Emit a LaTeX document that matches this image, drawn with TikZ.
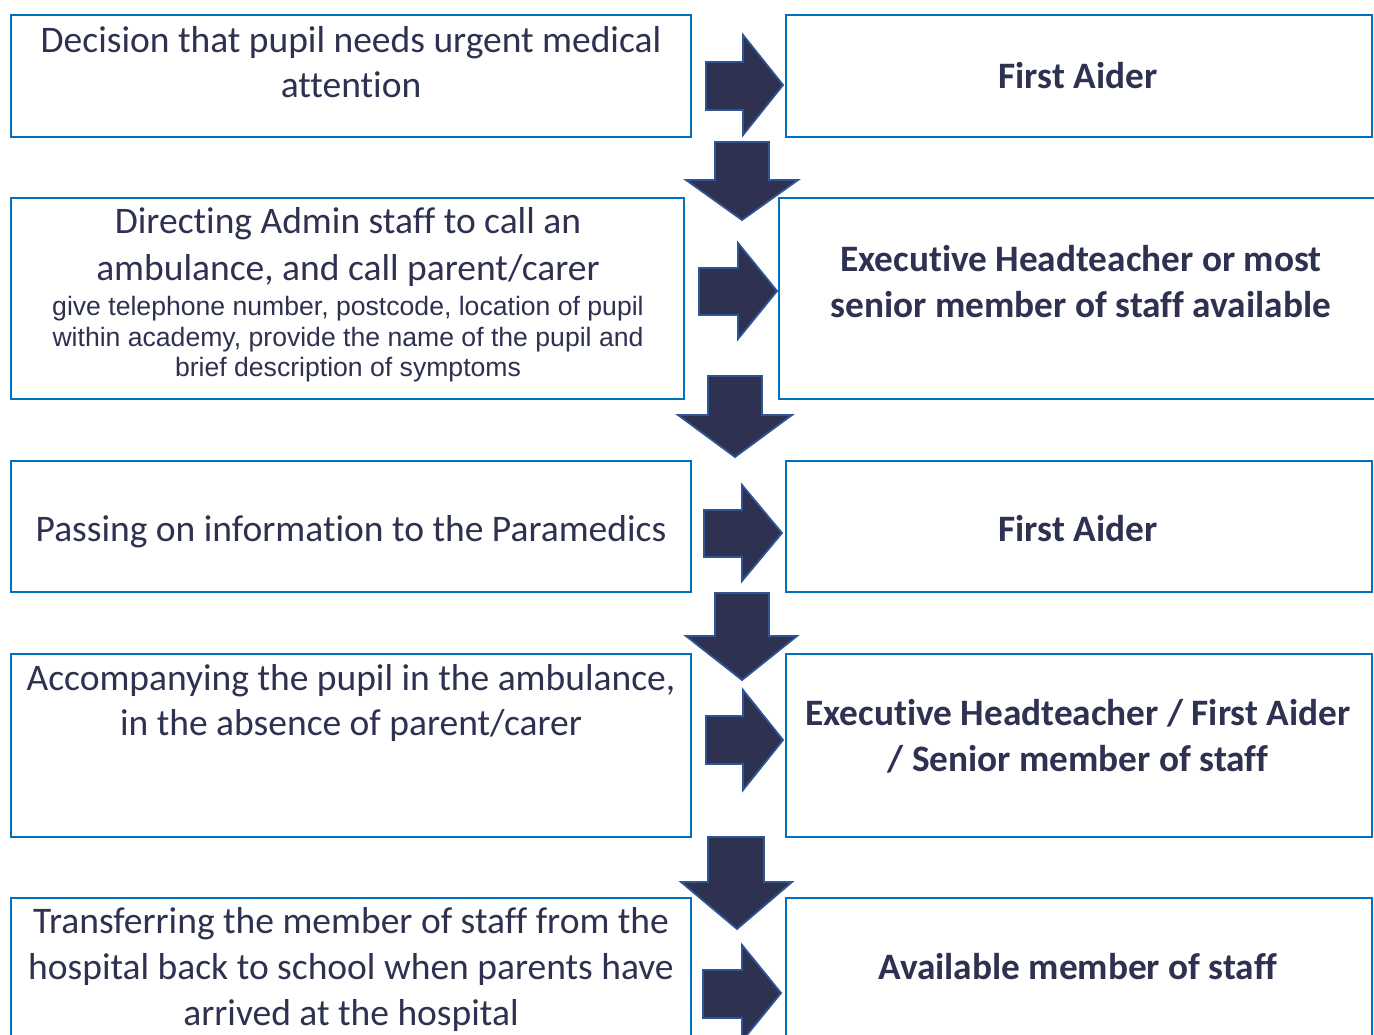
\documentclass[tikz,border=0pt]{standalone}
\usepackage{fontspec}
\setmainfont{Carlito}[Ligatures=NoCommon]
\newfontfamily\arialfont{Liberation Sans}
\definecolor{boxblue}{HTML}{0070C0}
\definecolor{navy}{HTML}{2E3150}
\definecolor{arrowedge}{HTML}{2F5597}
\begin{document}
\begin{tikzpicture}[x=1pt,y=-1pt,
  box/.style={draw=boxblue, line width=2pt, inner sep=0pt},
  txt/.style={anchor=base, inner sep=0pt, text=navy, font=\fontsize{37.5}{45}\selectfont},
  btxt/.style={txt, font=\fontsize{37.3}{45}\selectfont\bfseries},
  stxt/.style={anchor=base, inner sep=0pt, text=navy, font=\arialfont\fontsize{26.6}{30.6}\selectfont},
  blockarrow/.style={fill=navy, draw=arrowedge, line width=1.8pt, line join=miter}]
\useasboundingbox (0,0) rectangle (1374,1034);
\clip (0,0) rectangle (1374,1034);
\fill[white] (0,0) rectangle (1374,1034);

% boxes
\node[box, minimum width=680pt, minimum height=122pt] (b1l) at (351,76) {};
\node[box, minimum width=586pt, minimum height=122pt] (b1r) at (1079,76) {};
\node[box, minimum width=673pt, minimum height=201pt] (b2l) at (347.5,298.5) {};
\node[box, minimum width=604pt, minimum height=201pt] (b2r) at (1081,298.5) {};
\node[box, minimum width=680pt, minimum height=131pt] (b3l) at (351,526.5) {};
\node[box, minimum width=586pt, minimum height=131pt] (b3r) at (1079,526.5) {};
\node[box, minimum width=680pt, minimum height=183pt] (b4l) at (351,745.5) {};
\node[box, minimum width=586pt, minimum height=183pt] (b4r) at (1079,745.5) {};
\node[box, minimum width=680pt, minimum height=160pt] (b5l) at (351,978) {};
\node[box, minimum width=586pt, minimum height=160pt] (b5r) at (1079,978) {};

% texts
\node[txt] (t1a) at (351,52) {Decision that pupil needs urgent medical};
\node[txt] (t1b) at (351,97) {attention};
\node[btxt] (t1r) at (1078,88) {First Aider};

\node[txt] (t2a) at (348,233) {Directing Admin staff to call an};
\node[txt] (t2b) at (348,280) {ambulance, and call parent/carer};
\node[stxt] (t2c) at (348,315) {give telephone number, postcode, location of pupil};
\node[stxt] (t2d) at (348,346) {within academy, provide the name of the pupil and};
\node[stxt] (t2e) at (348,376) {brief description of symptoms};
\node[btxt] (t2r1) at (1081,271) {Executive Headteacher or most};
\node[btxt] (t2r2) at (1081,317) {senior member of staff available};

\node[txt] (t3l) at (351,541) {Passing on information to the Paramedics};
\node[btxt] (t3r) at (1078,541) {First Aider};

\node[txt] (t4a) at (351,690) {Accompanying the pupil in the ambulance,};
\node[txt] (t4b) at (351,735) {in the absence of parent/carer};
\node[btxt] (t4r1) at (1078,725) {Executive Headteacher / First Aider};
\node[btxt] (t4r2) at (1078,771) {/ Senior member of staff};

\node[txt] (t5a) at (351,933) {Transferring the member of staff from the};
\node[txt] (t5b) at (351,979) {hospital back to school when parents have};
\node[txt] (t5c) at (351,1025) {arrived at the hospital};
\node[btxt] (t5r) at (1078,979) {Available member of staff};

% right block arrows
\draw[blockarrow] (706,62) -- (743,62) -- (743,35) -- (783,85) -- (743,135) -- (743,110) -- (706,110) -- cycle;
\draw[blockarrow] (699,268) -- (738,268) -- (738,243) -- (777,291) -- (738,339) -- (738,315) -- (699,315) -- cycle;
\draw[blockarrow] (704,510) -- (742,510) -- (742,485) -- (782,533) -- (742,581) -- (742,557) -- (704,557) -- cycle;
\draw[blockarrow] (706,716) -- (743,716) -- (743,690) -- (783,740) -- (743,790) -- (743,764) -- (706,764) -- cycle;
\draw[blockarrow] (703,970) -- (742,970) -- (742,945) -- (781,993) -- (742,1041) -- (742,1018) -- (703,1018) -- cycle;

% down block arrows
\draw[blockarrow] (715,142) -- (769,142) -- (769,180) -- (798,180) -- (742,220) -- (686,180) -- (715,180) -- cycle;
\draw[blockarrow] (708,376) -- (762,376) -- (762,415) -- (792,415) -- (735,457) -- (678,415) -- (708,415) -- cycle;
\draw[blockarrow] (715,593) -- (769,593) -- (769,636) -- (797,636) -- (742,680) -- (686,636) -- (715,636) -- cycle;
\draw[blockarrow] (708,837) -- (764,837) -- (764,882) -- (792,882) -- (737,929) -- (681,882) -- (708,882) -- cycle;
\end{tikzpicture}
\end{document}
